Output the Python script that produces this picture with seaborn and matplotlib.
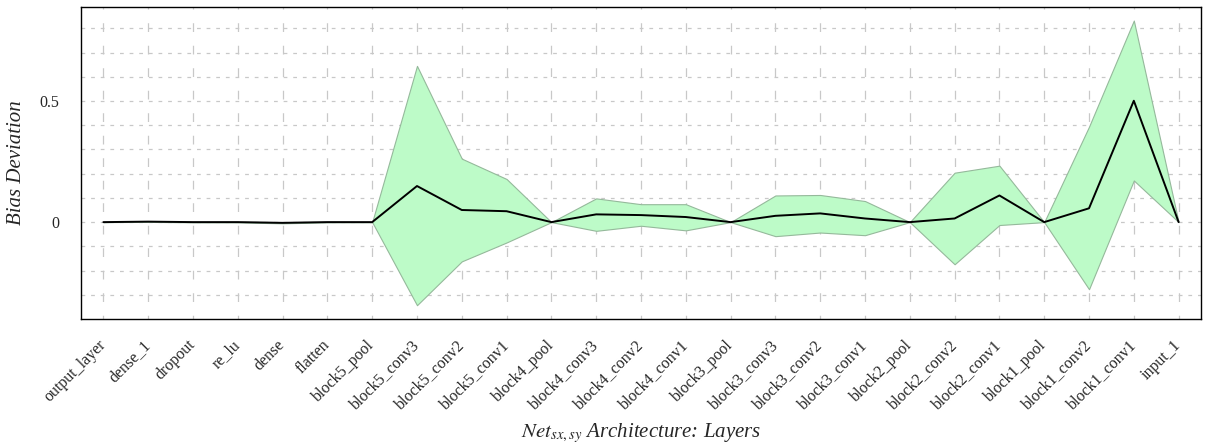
import numpy as np
import pandas as pd
import matplotlib
matplotlib.use('Agg')
import matplotlib.pyplot as plt
import seaborn as sns

# layer names, read left to right
layers = ['output_layer', 'dense_1', 'dropout', 're_lu', 'dense', 'flatten',
          'block5_pool', 'block5_conv3', 'block5_conv2', 'block5_conv1',
          'block4_pool', 'block4_conv3', 'block4_conv2', 'block4_conv1',
          'block3_pool', 'block3_conv3', 'block3_conv2', 'block3_conv1',
          'block2_pool', 'block2_conv2', 'block2_conv1', 'block1_pool',
          'block1_conv2', 'block1_conv1', 'input_1']

# mean bias deviation per layer
bias_mean = [0.0, 0.002, 0.0, 0.0, -0.003, 0.0,
             0.0, 0.149, 0.050, 0.045,
             0.0, 0.032, 0.029, 0.021,
             0.0, 0.026, 0.036, 0.015,
             0.0, 0.015, 0.110, 0.0,
             0.057, 0.501, 0.0]

# upper / lower envelope
bias_upper = [0.0, 0.003, 0.001, 0.001, 0.0, 0.001,
              0.0, 0.645, 0.262, 0.178,
              0.0, 0.098, 0.074, 0.074,
              0.0, 0.110, 0.112, 0.087,
              0.0, 0.204, 0.233, 0.0,
              0.394, 0.832, 0.0]
bias_lower = [0.0, 0.001, -0.001, -0.001, -0.005, -0.001,
              0.0, -0.343, -0.162, -0.084,
              0.0, -0.036, -0.015, -0.034,
              0.0, -0.058, -0.043, -0.054,
              0.0, -0.174, -0.012, 0.0,
              -0.277, 0.172, 0.0]

df = pd.DataFrame({'pos': np.arange(len(layers)), 'layer': layers,
                   'mean': bias_mean, 'upper': bias_upper, 'lower': bias_lower})

sns.set_style('white')
plt.rcParams['font.family'] = ['Liberation Serif', 'DejaVu Serif']
plt.rcParams['mathtext.fontset'] = 'stix'

fig, ax = plt.subplots(figsize=(12.05, 4.45), dpi=100)
fig.subplots_adjust(left=0.0672, right=0.9967, top=0.9843, bottom=0.2831)

# grid: vertical long dashes, horizontal short dashes
for p in df['pos']:
    ax.axvline(p, color='#c8c8c8', lw=0.9, ls=(4, (7, 11)), zorder=0)
for yv in np.arange(-0.3, 0.81, 0.1):
    ax.axhline(yv, color='#c8c8c8', lw=0.9, ls=(0, (3, 4.7)), zorder=0)

ax.fill_between(df['pos'], df['lower'], df['upper'], facecolor='#bdfbc8',
                edgecolor='#95b99b', lw=0.8, zorder=1)
sns.lineplot(data=df, x='pos', y='mean', color='black', lw=1.4, ax=ax, zorder=2)

ax.set_xlim(-0.5, len(layers) - 0.5)
ax.set_ylim(-0.4, 0.888)

ax.set_xticks(df['pos'])
ax.set_xticklabels(layers, rotation=45, ha='right', va='center',
                   rotation_mode='anchor', fontsize=11.5)
yt = np.round(np.arange(-0.4, 0.81, 0.1), 1)
ax.set_yticks(yt)
ax.set_yticklabels(['0' if v == 0 else ('0.5' if v == 0.5 else '') for v in yt],
                   fontsize=11.5)
ax.tick_params(axis='x', length=8, width=1, color='black', pad=9)
ax.tick_params(axis='y', length=6, width=1, color='black', pad=9.5)

for s in ax.spines.values():
    s.set_color('black')
    s.set_linewidth(1.0)

ax.set_xlabel(r'$Net_{sx,sy}$ Architecture: Layers', fontsize=15, style='italic',
              labelpad=6)
ax.set_ylabel('Bias Deviation', fontsize=15, style='italic', labelpad=10)

fig.savefig('out.png', dpi=100, facecolor='white')
